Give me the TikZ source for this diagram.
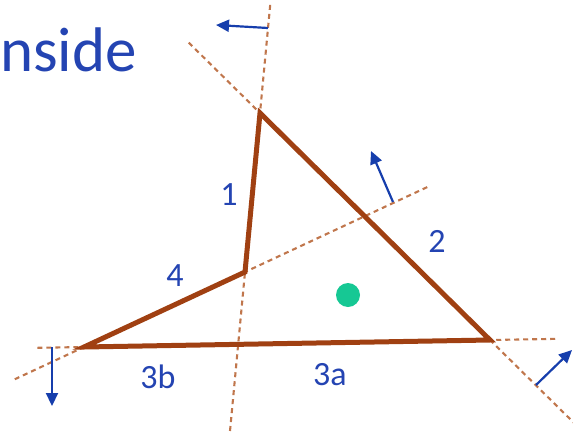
\documentclass[tikz,border=0pt]{standalone}
\usepackage{fontspec}
\setmainfont{Carlito}
\usetikzlibrary{positioning,arrows.meta,calc}
\definecolor{insBlue}{RGB}{36,68,178}
\definecolor{insArrow}{RGB}{22,62,172}
\definecolor{insBrown}{RGB}{160,64,18}
\definecolor{insDash}{RGB}{192,118,76}
\definecolor{insGreen}{RGB}{22,200,148}

\begin{document}
\begin{tikzpicture}[x=1pt, y=-1pt,
  edge/.style={draw=insBrown, line width=5pt, line join=miter},
  ext/.style={draw=insDash, line width=2.1pt, dash pattern=on 5pt off 4pt},
  nrm/.style={-{Triangle[length=13pt, width=12pt]}, draw=insArrow, fill=insArrow, line width=2.2pt},
  lbl/.style={text=insBlue, font=\fontsize{34}{34}\selectfont, inner sep=0pt}
]
\useasboundingbox (0,0) rectangle (573,434);
\node[text=insBlue, font=\fontsize{63}{63}\selectfont, anchor=base west, inner sep=0pt]
  (Title) at (0,71) {nside};
% triangle corners
\coordinate (A) at (260,113);
\coordinate (B) at (245,272);
\coordinate (C) at (84,347);
\coordinate (D) at (490,340);
% extended edge lines
\coordinate (E1a) at ($(A)!-0.68!(B)$);
\coordinate (E1b) at ($(A)!2.02!(B)$);
\coordinate (E2a) at ($(A)!-0.31!(D)$);
\coordinate (E2b) at ($(A)!1.37!(D)$);
\coordinate (E3a) at ($(C)!-0.115!(D)$);
\coordinate (E3b) at ($(C)!1.167!(D)$);
\coordinate (E4a) at ($(C)!-0.43!(B)$);
\coordinate (E4b) at ($(C)!2.15!(B)$);
\draw[ext] (E1a) -- (E1b);
\draw[ext] (E2a) -- (E2b);
\draw[ext] (E3a) -- (E3b);
\draw[ext] (E4a) -- (E4b);
\draw[edge] (A) -- (B) -- (C) -- (D) -- cycle;
% normals
\coordinate (N1) at (268,28);
\coordinate (N2) at (536,385);
\coordinate (N3) at (52,347);
\coordinate (N4) at (393,202);
\draw[nrm] (N1) -- (216,25);
\draw[nrm] (N2) -- (572,350);
\draw[nrm] (N3) -- (52,406);
\draw[nrm] (N4) -- (371,151);
% labels
\node[lbl] (L1)  at (229,195) {1};
\node[lbl] (L2)  at (437,241) {2};
\node[lbl] (L4)  at (175,276) {4};
\node[lbl] (L3b) at (158,377) {3b};
\node[lbl] (L3a) at (330,375) {3a};
\fill[insGreen] (348,295) circle (12);
\end{tikzpicture}
\end{document}
